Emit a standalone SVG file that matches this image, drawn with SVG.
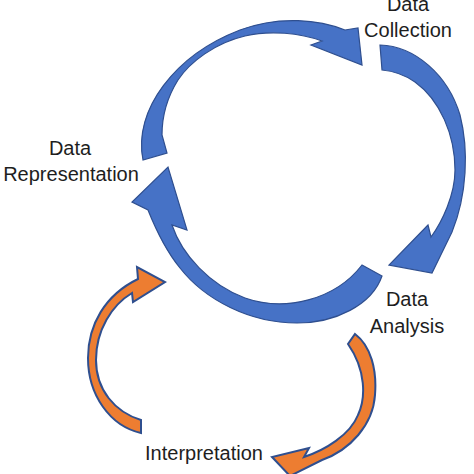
<svg xmlns="http://www.w3.org/2000/svg" width="474" height="474" viewBox="0 0 474 474">
  <style>
    .lbl { font-family: "Liberation Sans", Arial, sans-serif; font-size: 20px; fill: #1e1e1e; text-anchor: middle; }
    .blue { fill: #4672C6; stroke: #2F4F8F; stroke-width: 1.2; stroke-linejoin: miter; }
    .orange { fill: #ED7D31; stroke: #2F4F8F; stroke-width: 2; stroke-linejoin: miter; }
  </style>
  <rect width="474" height="474" fill="#ffffff"/>
  <g id="connectors">
    <path id="arrow-rep-to-collection" class="blue" d="M143,160 C133,110 175,55 240,30 C280,15 320,20 345,30 L358,28 L362,65 L311,45 L322,41 C300,33 270,30 245,36 C215,43 190,62 178,80 C168,96 162,115 162,135 L167,153 Z"/>
    <path id="arrow-collection-to-analysis" class="blue" d="M380,45 C415,46 448,75 460,115 C469,150 467,195 452,232 L432,273 L389,265 L428,225 L431,237 C442,222 455,195 455,170 C455,135 440,100 415,82 C405,75 393,71 382,70 Z"/>
    <path id="arrow-analysis-to-rep" class="blue" d="M382,276 C372,305 335,323 297,323 C250,323 205,300 180,268 C167,252 158,235 148,210 L132,202 L168,167 L187,230 L172,225 C182,255 210,285 245,298 C285,312 335,300 362,265 Z"/>
    <path id="arrow-interp-to-cycle" class="orange" d="M141,433 C110,426 88,395 88,358 C88,325 105,295 138,279 L137,267 L165,282 L133,302 L132,293 C112,305 96,330 96,360 C96,390 115,412 141,420 Z"/>
    <path id="arrow-analysis-to-interp" class="orange" d="M355,334 C371,346 377,370 375,395 C373,425 350,450 322,460 L290,476 L272,457 L309,448 L304,457 C325,450 350,435 358,415 C366,398 366,370 348,344 Z"/>
  </g>
  <g id="node-data-collection">
    <text class="lbl" x="408" y="11">Data</text>
    <text class="lbl" x="408" y="37">Collection</text>
  </g>
  <g id="node-data-representation">
    <text class="lbl" x="70" y="155">Data</text>
    <text class="lbl" x="71" y="181">Representation</text>
  </g>
  <g id="node-data-analysis">
    <text class="lbl" x="407" y="306">Data</text>
    <text class="lbl" x="407" y="333">Analysis</text>
  </g>
  <g id="node-interpretation">
    <text class="lbl" x="204" y="460">Interpretation</text>
  </g>
</svg>
